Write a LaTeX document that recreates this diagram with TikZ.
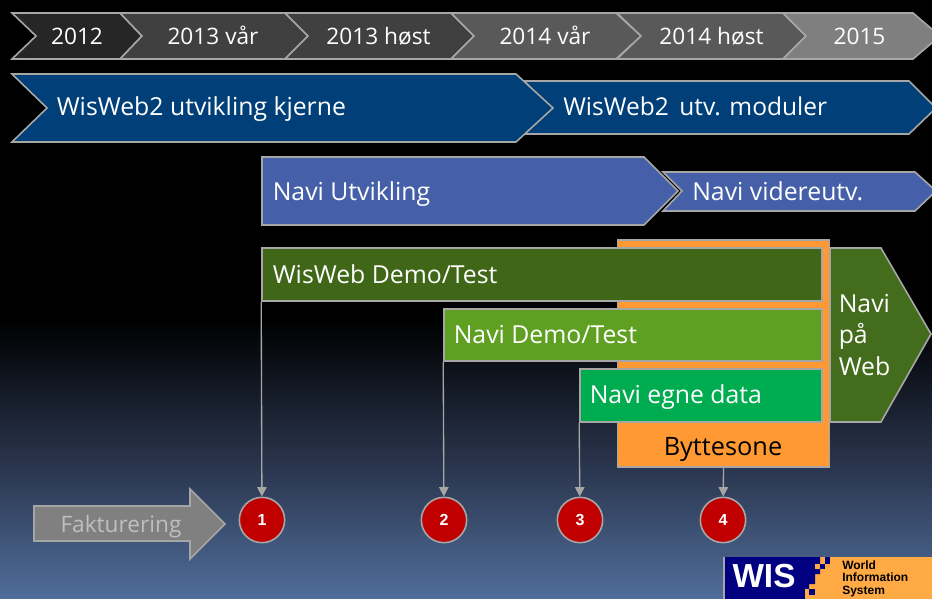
\documentclass[tikz,border=0pt]{standalone}
\usepackage{fontspec}
\setmainfont{Open Sans}
\setsansfont{Liberation Sans}
\usetikzlibrary{arrows.meta}
\definecolor{edgegray}{HTML}{A6A6A6}
\definecolor{bluebar}{HTML}{003F77}
\definecolor{navibar}{HTML}{4560A8}
\definecolor{orangebox}{HTML}{FF9933}
\definecolor{bgmid}{RGB}{46,59,86}
\definecolor{bgend}{RGB}{80,110,155}
\definecolor{darkgreen}{RGB}{64,102,24}
\definecolor{webgreen}{RGB}{67,109,28}
\definecolor{midgreen}{RGB}{95,160,34}
\definecolor{brightgreen}{RGB}{0,172,80}
\definecolor{logoblue}{RGB}{0,0,128}
\definecolor{logoorange}{RGB}{255,170,68}
\definecolor{dotred}{RGB}{192,0,0}
\tikzset{
  x=0.75pt,y=-0.75pt,
  shp/.style={draw=edgegray,line width=1.2pt,line join=miter},
  lab/.style={text=white,anchor=base west,inner sep=0pt,font=\fontsize{18.6}{20}\selectfont},
  yearlab/.style={text=white,anchor=base,inner sep=0pt,font=\fontsize{17}{20}\selectfont},
  dot/.style={circle,draw=edgegray,line width=1.2pt,fill=dotred,minimum size=34pt,inner sep=0pt,text=white,font=\fontsize{12}{14}\sffamily\bfseries},
  conn/.style={draw=edgegray,line width=1pt,-{Triangle[length=7pt,width=7pt]}},
}
\begin{document}
\begin{tikzpicture}
\useasboundingbox (0,0) rectangle (932,599);
\fill[black] (0,0) rectangle (932,320.5);
\shade[top color=black,bottom color=bgmid] (0,320) rectangle (932,480.5);
\shade[top color=bgmid,bottom color=bgend] (0,480) rectangle (932,599);
% years
\foreach \a/\n/\s/\t/\c in {
 12/36/120/142/262626,
 120/142/285/308/404040,
 285/308/451/474/404040,
 451/474/616/641/595959,
 617/641/783/806/595959,
 783/806/913/940/7F7F7F}{
  \definecolor{cc}{HTML}{\c}
  \draw[shp,fill=cc] (\a,13) -- (\s,13) -- (\t,36) -- (\s,59) -- (\a,59) -- (\n,36) -- cycle;
}
\node[yearlab] (y1) at (77,45) {2012};
\node[yearlab] (y2) at (213,45) {2013 vår};
\node[yearlab] (y3) at (378.5,45) {2013 høst};
\node[yearlab] (y4) at (545,45) {2014 vår};
\node[yearlab] (y5) at (711.5,45) {2014 høst};
\node[yearlab] (y6) at (859.5,45) {2015};
% wisweb
\draw[shp,fill=bluebar] (524,81) -- (909,81) -- (936,108) -- (909,134) -- (524,134) -- (550,108) -- cycle;
\draw[shp,fill=bluebar] (12,74) -- (516,74) -- (553,108) -- (516,142) -- (12,142) -- (47,108) -- cycle;
\node[lab] (w1) at (56.5,116) {WisWeb2 utvikling kjerne};
\node[lab,font=\fontsize{18.4}{20}\selectfont] (w2) at (563,116) {WisWeb2\, utv. moduler};
% navi
\draw[shp,fill=navibar] (663,172) -- (915,172) -- (936,191) -- (915,211) -- (663,211) -- (682,191) -- cycle;
\draw[shp,fill=navibar] (262,157) -- (644,157) -- (678,191) -- (644,225) -- (262,225) -- cycle;
\node[lab] (n1) at (272.5,200) {Navi Utvikling};
\node[lab] (n2) at (692,200) {Navi videreutv.};
% boxes
\node[draw=edgegray,line width=1.2pt,fill=orangebox,minimum width=159pt,minimum height=170.25pt,inner sep=0pt] (swap) at (723.5,353.5) {};
\node[text=black,anchor=base,inner sep=0pt,font=\fontsize{19}{20}\selectfont] (swapl) at (723,455) {Byttesone};
\draw[shp,fill=webgreen] (830,248) -- (881,248) -- (931,334) -- (881,422) -- (830,422) -- cycle;
\node[lab] (web1) at (838.5,312) {Navi};
\node[lab] (web2) at (838.5,343.5) {på};
\node[lab] (web3) at (838.5,375) {Web};
\node[shp,fill=darkgreen,minimum width=420pt,minimum height=39.75pt,inner sep=0pt] (b1) at (542,274.5) {};
\node[lab] (b1l) at (272.5,283) {WisWeb Demo/Test};
\node[shp,fill=midgreen,minimum width=283.5pt,minimum height=39pt,inner sep=0pt] (b2) at (633,335) {};
\node[lab] (b2l) at (453.5,343) {Navi Demo/Test};
\node[shp,fill=brightgreen,minimum width=181.5pt,minimum height=39.75pt,inner sep=0pt] (b3) at (701,395.5) {};
\node[lab] (b3l) at (589.5,403.5) {Navi egne data};
% circles
\node[dot] (c1) at (262,520) {1};
\node[dot] (c2) at (444,520) {2};
\node[dot] (c3) at (580,520) {3};
\node[dot] (c4) at (723,520) {4};
\draw[conn] (b1.south west) -- (c1);
\draw[conn] (b2.south west) -- (c2);
\draw[conn] (b3.south west) -- (c3);
\draw[conn] (swap.south) -- (c4);
% billing arrow
\draw[shp,fill=black!50] (34,506) -- (190,506) -- (190,489) -- (225,524) -- (190,559) -- (190,541) -- (34,541) -- cycle;
\node[anchor=base,inner sep=0pt,text=black!25,font=\fontsize{17}{20}\selectfont] (fak) at (121,532) {Fakturering};
% logo
\fill[edgegray] (723,557) rectangle (725,599);
\fill[logoorange] (805,557) rectangle (932,599);
\fill[logoblue] (725,557) -- (820,557) -- (820,574) -- (815,574) -- (815,584) -- (809,584) -- (809,595) -- (805,595) -- (805,599) -- (725,599) -- cycle;
\fill[logoorange] (815,563.5) rectangle (820,569);
\fill[logoorange] (805,589) rectangle (809,599);
\fill[logoblue] (825,557) rectangle (830,563.5);
\fill[logoblue] (820,563.5) rectangle (825,569);
\fill[logoblue] (809,589) rectangle (815,595);
\node[anchor=base,inner sep=0pt,text=white,font=\fontsize{25}{28}\sffamily\bfseries] (wis) at (764,587) {WIS};
\node[anchor=base west,inner sep=0pt,text=black,font=\fontsize{9}{9}\sffamily\bfseries] (sys1) at (842,569) {World};
\node[anchor=base west,inner sep=0pt,text=black,font=\fontsize{9}{9}\sffamily\bfseries] (sys2) at (842,581.5) {Information};
\node[anchor=base west,inner sep=0pt,text=black,font=\fontsize{9}{9}\sffamily\bfseries] (sys3) at (842,594) {System};
\end{tikzpicture}
\end{document}
